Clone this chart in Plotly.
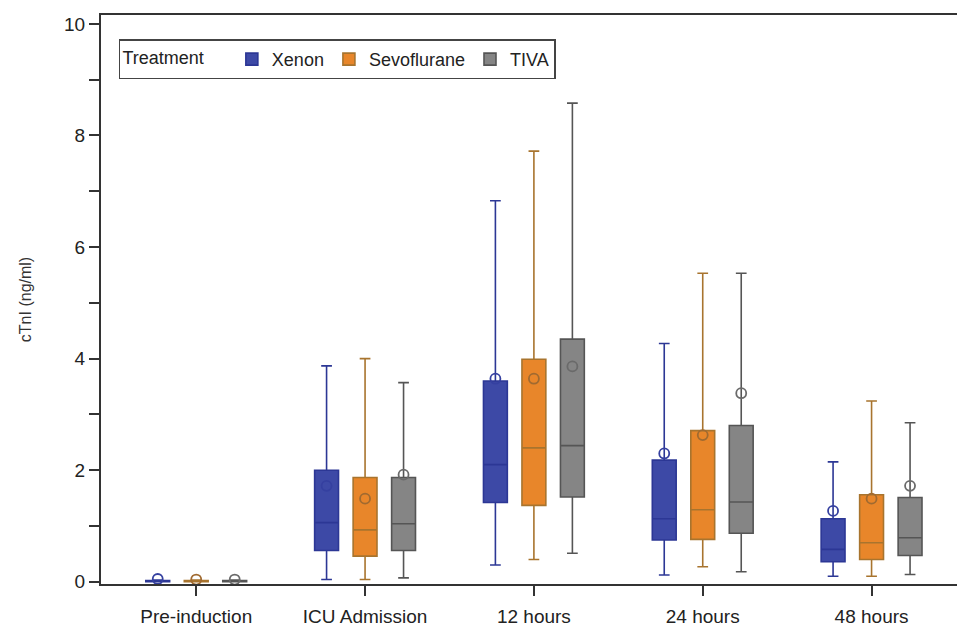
import plotly.graph_objects as go

categories = ["Pre-induction", "ICU Admission", "12 hours", "24 hours", "48 hours"]
treatments = ["Xenon", "Sevoflurane", "TIVA"]

# box statistics per treatment (ng/ml)
q1 = {
    "Xenon":       [0.00, 0.56, 1.42, 0.75, 0.36],
    "Sevoflurane": [0.00, 0.46, 1.37, 0.76, 0.40],
    "TIVA":        [0.00, 0.56, 1.52, 0.87, 0.47],
}
median = {
    "Xenon":       [0.01, 1.06, 2.10, 1.13, 0.58],
    "Sevoflurane": [0.01, 0.93, 2.40, 1.29, 0.70],
    "TIVA":        [0.01, 1.04, 2.44, 1.43, 0.79],
}
q3 = {
    "Xenon":       [0.02, 2.00, 3.60, 2.18, 1.13],
    "Sevoflurane": [0.02, 1.87, 3.99, 2.71, 1.56],
    "TIVA":        [0.02, 1.87, 4.35, 2.80, 1.51],
}
lower = {
    "Xenon":       [0.00, 0.04, 0.30, 0.12, 0.10],
    "Sevoflurane": [0.00, 0.04, 0.40, 0.27, 0.10],
    "TIVA":        [0.00, 0.07, 0.51, 0.18, 0.13],
}
upper = {
    "Xenon":       [0.03, 3.87, 6.83, 4.27, 2.15],
    "Sevoflurane": [0.03, 4.00, 7.72, 5.53, 3.24],
    "TIVA":        [0.03, 3.57, 8.58, 5.53, 2.85],
}
mean = {
    "Xenon":       [0.05, 1.72, 3.64, 2.30, 1.27],
    "Sevoflurane": [0.04, 1.49, 3.64, 2.63, 1.49],
    "TIVA":        [0.04, 1.92, 3.86, 3.38, 1.72],
}

fill_colors = {"Xenon": "#3d49a6", "Sevoflurane": "#e8862a", "TIVA": "#858585"}
line_colors = {"Xenon": "#2c3795", "Sevoflurane": "#a8742e", "TIVA": "#555555"}
mean_colors = {"Xenon": "#3540a0", "Sevoflurane": "#a06a30", "TIVA": "#6a6a6a"}

BOXGAP = 0.316
FONT = "Liberation Sans, Arial, sans-serif"

fig = go.Figure()
for i, t in enumerate(treatments):
    fig.add_trace(go.Box(
        name=t,
        x=categories,
        q1=q1[t], median=median[t], q3=q3[t],
        lowerfence=lower[t], upperfence=upper[t],
        fillcolor=fill_colors[t],
        line=dict(color=line_colors[t], width=1.6),
        whiskerwidth=0.45,
        offsetgroup=str(i), alignmentgroup="a",
        boxpoints=False,
        hoverinfo="skip",
    ))
for i, t in enumerate(treatments):
    fig.add_trace(go.Scatter(
        x=categories, y=mean[t], mode="markers",
        marker=dict(symbol="circle-open", size=10, color=mean_colors[t], line=dict(width=1.8, color=mean_colors[t])),
        offsetgroup=str(i), alignmentgroup="a",
        showlegend=False, hoverinfo="skip",
    ))

fig.update_layout(
    width=957, height=626,
    margin=dict(l=101, r=0, t=15, b=42),
    paper_bgcolor="white", plot_bgcolor="white",
    boxmode="group", boxgap=BOXGAP, boxgroupgap=0.38,
    scattermode="group", scattergap=BOXGAP,
    font=dict(family=FONT, size=18, color="#222"),
    legend=dict(
        orientation="h", x=0.021, y=0.957, xanchor="left", yanchor="top",
        title=dict(text="Treatment    ", font=dict(size=18), side="left"),
        bordercolor="#444", borderwidth=1.5, bgcolor="white",
        font=dict(size=18), itemwidth=30, valign="middle",
    ),
    xaxis=dict(
        type="category", range=[-0.564, 4.506],
        showline=True, linecolor="#333", linewidth=2, mirror=True,
        ticks="outside", ticklen=10, tickwidth=1.5, tickcolor="#333",
        showgrid=False, zeroline=False, ticklabelstandoff=4,
        tickfont=dict(size=19),
    ),
    yaxis=dict(
        range=[-0.04, 10.16],
        tickvals=[0, 2, 4, 6, 8, 10],
        showline=True, linecolor="#333", linewidth=2, mirror=False,
        ticks="outside", ticklen=10, tickwidth=1.5, tickcolor="#333",
        minor=dict(ticks="outside", ticklen=10, dtick=1, tickwidth=1.5, tickcolor="#333", showgrid=False),
        showgrid=False, zeroline=False,
        tickfont=dict(size=19),
        title=dict(text="cTnI (ng/ml)", font=dict(size=16, color="#333"), standoff=28),
    ),
)

fig.write_html(
    "out.html",
    config={"displayModeBar": False},
    post_script="document.body.style.margin='0';document.body.style.overflow='hidden';",
)
